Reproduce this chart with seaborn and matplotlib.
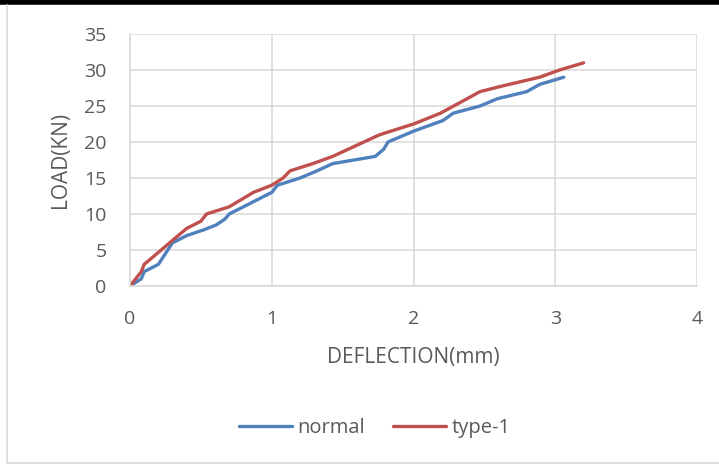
import matplotlib
matplotlib.use("Agg")
import matplotlib.pyplot as plt
import matplotlib.lines as mlines
import seaborn as sns
import pandas as pd

# Load-deflection readings for the two beams
normal_deflection = [0, 0.08, 0.10, 0.20, 0.30, 0.40, 0.52, 0.61, 0.67, 0.70, 0.85, 1.00,
                     1.04, 1.20, 1.32, 1.43, 1.58, 1.73, 1.79, 1.82, 2.00, 2.21, 2.28,
                     2.47, 2.59, 2.80, 2.89, 3.06]
normal_load = [0, 1, 2, 3, 6, 7, 7.8, 8.5, 9.3, 10, 11.5, 13,
               14, 15, 16, 17, 17.5, 18, 19, 20, 21.5, 23, 24,
               25, 26, 27, 28, 29]

type1_deflection = [0, 0.08, 0.10, 0.28, 0.40, 0.50, 0.54, 0.70, 0.87, 1.00, 1.08, 1.13,
                    1.29, 1.43, 1.76, 2.00, 2.19, 2.33, 2.47, 2.61, 2.89, 3.03, 3.20]
type1_load = [0, 2, 3, 6, 8, 9, 10, 11, 13, 14, 15, 16,
              17, 18, 21, 22.5, 24, 25.5, 27, 27.7, 29, 30, 31]

series_names = ["normal", "type-1"]
series_colors = ["#4F81BD", "#C0504D"]

x_ticks = [0, 1, 2, 3, 4]
y_ticks = [0, 5, 10, 15, 20, 25, 30, 35]

df = pd.concat([
    pd.DataFrame({"DEFLECTION(mm)": normal_deflection, "LOAD(KN)": normal_load, "series": series_names[0]}),
    pd.DataFrame({"DEFLECTION(mm)": type1_deflection, "LOAD(KN)": type1_load, "series": series_names[1]}),
], ignore_index=True)

sns.set_theme(style="white")
plt.rcParams["font.family"] = ["Open Sans", "DejaVu Sans"]
text_color = "#595959"
grid_color = "#D9D9D9"

fig = plt.figure(figsize=(7.19, 4.65), dpi=100)
ax = fig.add_axes([130 / 719, 179 / 465, 567 / 719, 252 / 465])

sns.lineplot(data=df, x="DEFLECTION(mm)", y="LOAD(KN)", hue="series", sort=False,
             palette=dict(zip(series_names, series_colors)), linewidth=2.4,
             estimator=None, legend=False, ax=ax,
             solid_capstyle="round", solid_joinstyle="round")

ax.set_xlim(x_ticks[0], x_ticks[-1])
ax.set_ylim(y_ticks[0], y_ticks[-1])
ax.set_xticks(x_ticks)
ax.set_yticks(y_ticks)
ax.grid(True, color=grid_color, linewidth=1.1)
ax.set_axisbelow(True)
for side in ["top", "right"]:
    ax.spines[side].set_visible(False)
for side in ["left", "bottom"]:
    ax.spines[side].set_color(grid_color)
    ax.spines[side].set_linewidth(1.1)
ax.tick_params(axis="both", length=0, labelsize=14, labelcolor=text_color)
ax.tick_params(axis="y", pad=17)
ax.tick_params(axis="x", pad=17)
ax.set_xlabel("DEFLECTION(mm)", fontsize=15, color=text_color, labelpad=14)
ax.set_ylabel("LOAD(KN)", fontsize=15, color=text_color, labelpad=9)

handles = [mlines.Line2D([], [], color=c, linewidth=2.4, solid_capstyle="round") for c in series_colors]
fig.legend(handles, series_names, loc="center", bbox_to_anchor=(375 / 719, 1 - 428 / 465),
           ncol=2, frameon=False, fontsize=14.5, labelcolor=text_color,
           handlelength=2.6, handletextpad=0.3, columnspacing=1.4)

# Outer frame: heavy top rule, light left and bottom edges
fig.add_artist(mlines.Line2D([0, 1], [1 - 2.5 / 465, 1 - 2.5 / 465], color="black", linewidth=4, transform=fig.transFigure))
fig.add_artist(mlines.Line2D([7 / 719, 7 / 719], [1 - 5 / 465, 2 / 465], color="#D9D9D9", linewidth=1.2, transform=fig.transFigure))
fig.add_artist(mlines.Line2D([7 / 719, 1], [2 / 465, 2 / 465], color="#D9D9D9", linewidth=1.2, transform=fig.transFigure))

fig.savefig("out.png", dpi=100)
